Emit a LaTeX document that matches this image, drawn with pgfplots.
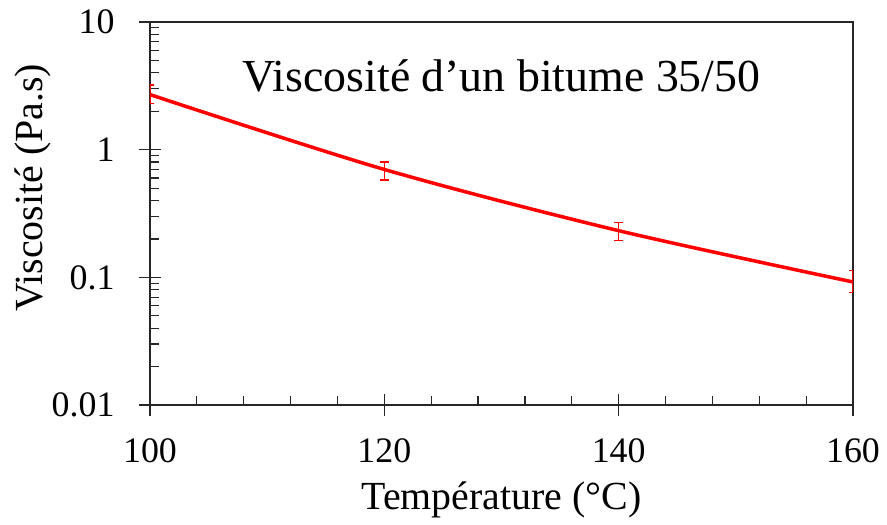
\documentclass[border=0pt]{standalone}
\usepackage{pgfplots}
\pgfplotsset{compat=1.18}
\usepackage{fontspec}
\setmainfont{Liberation Serif}
\begin{document}
\begin{tikzpicture}
\begin{axis}[
  scale only axis, width=703bp, height=383bp,
  xmin=100, xmax=160, ymode=log, log basis y=10, ymin=0.01, ymax=10,
  xtick={100,120,140,160}, minor x tick num=4,
  ytick={0.01,0.1,1,10}, yticklabels={0.01,0.1,1,10},
  minor ytick={0.02,0.03,0.04,0.05,0.06,0.07,0.08,0.09,0.2,0.3,0.4,0.5,0.6,0.7,0.8,0.9,2,3,4,5,6,7,8,9},
  xtick pos=left, ytick pos=left,
  tick align=center, major tick length=22bp, minor tick length=9bp,
  minor y tick style={xshift=4.5bp}, minor x tick style={yshift=4.5bp},
  axis line style={black!85, line width=1.2bp}, tick style={black!85, line width=1.2bp},
  tick label style={font=\fontsize{36}{40}\selectfont},
  /pgf/number format/assume math mode=true,
  xticklabel style={anchor=north, yshift=-19bp},
  yticklabel style={anchor=east, xshift=-21bp},
  xlabel={Température (°C)}, ylabel={Viscosité (Pa.s)},
  every axis x label/.style={at={(axis description cs:0.5,0)}, anchor=center, yshift=-95bp, font=\fontsize{40}{46}\selectfont},
  every axis y label/.style={at={(axis description cs:0,0.567)}, xshift=-117bp, rotate=90, anchor=center, font=\fontsize{40}{46}\selectfont},
]
\addplot[red, line width=3.5bp, smooth, mark=none,
  error bars/.cd, y dir=both, y explicit,
  error bar style={line width=1.6bp, red},
  error mark options={rotate=90, mark size=4.5bp, line width=1.6bp, red}]
  coordinates {
    (100,2.7) += (0,0.5) -= (0,0.4)
    (120,0.70) += (0,0.10) -= (0,0.12)
    (140,0.232) += (0,0.036) -= (0,0.038)
    (160,0.092) += (0,0.021) -= (0,0.016)
  };
\node[font=\fontsize{46}{52}\selectfont] at (rel axis cs:0.5,0.86) {Viscosité d’un bitume 35/50};
\end{axis}
\pgfresetboundingbox
\useasboundingbox (-150bp,-120bp) rectangle (737bp,405bp);
\end{tikzpicture}
\end{document}
